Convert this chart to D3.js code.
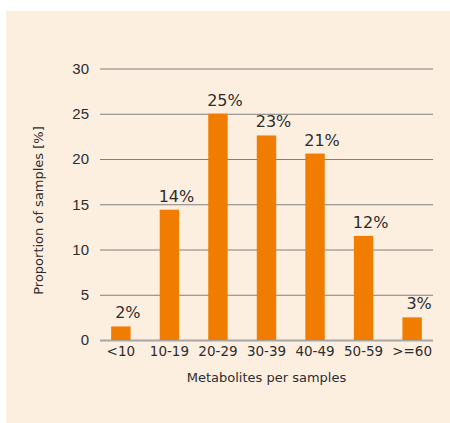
<!DOCTYPE html>
<html>
<head>
<meta charset="utf-8">
<script src="https://cdn.jsdelivr.net/npm/d3@7"></script>
<style>
  html, body { margin: 0; padding: 0; background: #ffffff; }
  svg { display: block; font-family: "DejaVu Sans", Verdana, sans-serif; }
</style>
</head>
<body>
<svg id="chart" width="450" height="423"></svg>
<script>
// Share of samples by number of metabolites detected
const categories = ["<10", "10-19", "20-29", "30-39", "40-49", "50-59", ">=60"];
const proportions = [1.5, 14.4, 25, 22.6, 20.6, 11.5, 2.5];
const yTicks = [0, 5, 10, 15, 20, 25, 30];

const xTitle = "Metabolites per samples";
const yTitle = "Proportion of samples [%]";

const W = 450, H = 423;
const plot = { left: 100, right: 433, top: 68.5, bottom: 340 };
const textColor = "#2d2d2d";
const barColor = "#f07d00";

const svg = d3.select("#chart");

// peach card behind the chart
svg.append("rect")
  .attr("x", 6).attr("y", 11)
  .attr("width", W - 6).attr("height", H - 11)
  .attr("fill", "#fdefe0");

const x = d3.scaleBand()
  .domain(categories)
  .range([plot.left, plot.right])
  .paddingInner(0.6)
  .paddingOuter(0.23);

const y = d3.scaleLinear()
  .domain([0, 30])
  .range([plot.bottom, plot.top]);

// horizontal gridlines with value labels
const yAxis = d3.axisLeft(y)
  .tickValues(yTicks)
  .tickSize(-(plot.right - plot.left))
  .tickPadding(11)
  .tickFormat(d3.format("d"));

const gy = svg.append("g")
  .attr("transform", `translate(${plot.left},0)`)
  .call(yAxis);
gy.select(".domain").remove();
gy.selectAll(".tick line")
  .attr("stroke", d => d === 0 ? "#a6a6a6" : "#7f7f7f")
  .attr("stroke-width", d => d === 0 ? 2 : 1);
gy.selectAll(".tick text")
  .attr("fill", textColor)
  .style("font-size", "15px");

// bars
svg.append("g")
  .selectAll("rect")
  .data(categories)
  .join("rect")
  .attr("x", (d) => x(d))
  .attr("y", (d, i) => y(proportions[i]))
  .attr("width", x.bandwidth())
  .attr("height", (d, i) => y(0) - y(proportions[i]))
  .attr("fill", barColor);

// value labels above bars
const pct = d3.format(".0f");
svg.append("g")
  .selectAll("text")
  .data(categories)
  .join("text")
  .attr("x", (d) => x(d) + x.bandwidth() / 2 + 7)
  .attr("y", (d, i) => y(proportions[i]) - 8)
  .attr("text-anchor", "middle")
  .attr("fill", textColor)
  .style("font-size", "16px")
  .text((d, i) => pct(proportions[i]) + "%");

// category labels, kept inside the plot width
const gx = svg.append("g");
gx.selectAll("text")
  .data(categories)
  .join("text")
  .attr("y", plot.bottom + 16)
  .attr("text-anchor", "start")
  .attr("fill", textColor)
  .style("font-size", "13.5px")
  .text(d => d)
  .each(function (d) {
    const w = this.getComputedTextLength();
    let left = x(d) + x.bandwidth() / 2 - w / 2;
    left = Math.max(plot.left, Math.min(plot.right - w, left));
    d3.select(this).attr("x", left);
  });

// axis titles
svg.append("text")
  .attr("x", (plot.left + plot.right) / 2)
  .attr("y", 382)
  .attr("text-anchor", "middle")
  .attr("fill", textColor)
  .style("font-size", "13px")
  .text(xTitle);

svg.append("text")
  .attr("transform", `translate(43,${(123 + 298) / 2}) rotate(-90)`)
  .attr("text-anchor", "middle")
  .attr("fill", textColor)
  .style("font-size", "13px")
  .text(yTitle);
</script>
</body>
</html>
